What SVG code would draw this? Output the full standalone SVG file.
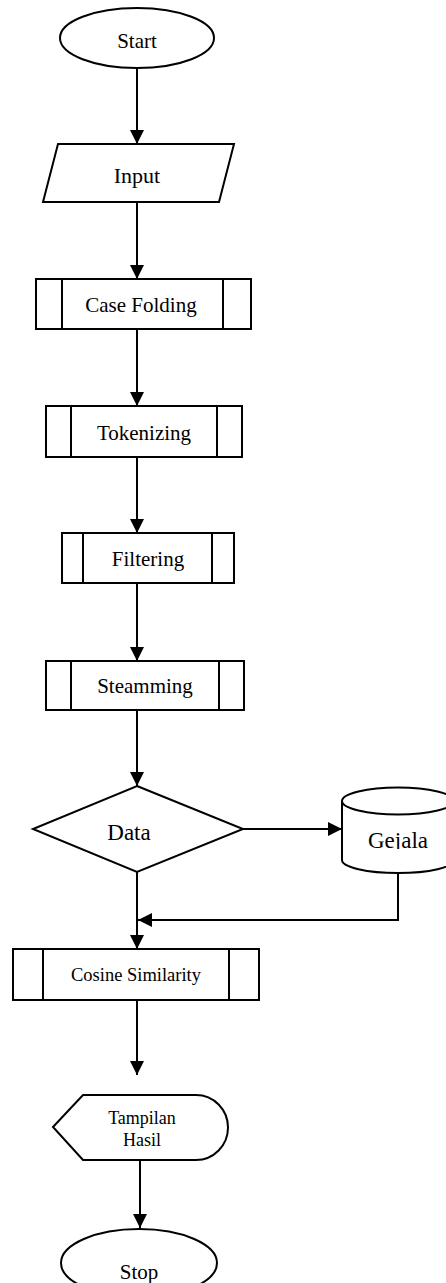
<svg xmlns="http://www.w3.org/2000/svg" width="446" height="1283" viewBox="0 0 446 1283">
<style>
.s{fill:#fff;stroke:#000;stroke-width:2}
.l{fill:none;stroke:#000;stroke-width:2}
.t{font-family:"Liberation Serif","Times New Roman",serif;fill:#000;text-anchor:middle}
</style>
<defs>
<marker id="ah" markerUnits="userSpaceOnUse" markerWidth="14" markerHeight="14" refX="14" refY="7" orient="auto">
<path d="M0,0 L14,7 L0,14 Z" fill="#000"/>
</marker>
<clipPath id="gc"><rect x="340" y="780" width="106" height="69"/></clipPath>
</defs>
<rect width="446" height="1283" fill="#fff"/>
<g id="connectors">
<line class="l" x1="137" y1="68" x2="137" y2="144" marker-end="url(#ah)"/>
<line class="l" x1="137" y1="202" x2="137" y2="279" marker-end="url(#ah)"/>
<line class="l" x1="137" y1="329" x2="137" y2="406" marker-end="url(#ah)"/>
<line class="l" x1="137" y1="457" x2="137" y2="533" marker-end="url(#ah)"/>
<line class="l" x1="137" y1="583" x2="137" y2="661" marker-end="url(#ah)"/>
<line class="l" x1="137" y1="710" x2="137" y2="786" marker-end="url(#ah)"/>
<line class="l" x1="243" y1="829" x2="342" y2="829" marker-end="url(#ah)"/>
<path class="l" d="M398,873 V920 H138" marker-end="url(#ah)"/>
<line class="l" x1="137" y1="872" x2="137" y2="949" marker-end="url(#ah)"/>
<line class="l" x1="137" y1="1000" x2="137" y2="1075" marker-end="url(#ah)"/>
<line class="l" x1="140" y1="1160" x2="140" y2="1228" marker-end="url(#ah)"/>
</g>
<g id="start">
<ellipse class="s" cx="137" cy="38" rx="77" ry="30"/>
<text class="t" x="137" y="48" font-size="21">Start</text>
</g>
<g id="input">
<polygon class="s" points="58,144 234,144 219,202 43,202"/>
<text class="t" x="137" y="183" font-size="22">Input</text>
</g>
<g id="casefolding">
<rect class="s" x="36" y="279" width="215" height="50"/>
<line class="l" x1="62" y1="279" x2="62" y2="329"/>
<line class="l" x1="223" y1="279" x2="223" y2="329"/>
<text class="t" x="141" y="312" font-size="21">Case Folding</text>
</g>
<g id="tokenizing">
<rect class="s" x="46" y="406" width="196" height="51"/>
<line class="l" x1="71" y1="406" x2="71" y2="457"/>
<line class="l" x1="217" y1="406" x2="217" y2="457"/>
<text class="t" x="144" y="440" font-size="21">Tokenizing</text>
</g>
<g id="filtering">
<rect class="s" x="62" y="533" width="172" height="50"/>
<line class="l" x1="83" y1="533" x2="83" y2="583"/>
<line class="l" x1="212" y1="533" x2="212" y2="583"/>
<text class="t" x="148" y="566" font-size="21">Filtering</text>
</g>
<g id="steamming">
<rect class="s" x="46" y="661" width="198" height="49"/>
<line class="l" x1="71" y1="661" x2="71" y2="710"/>
<line class="l" x1="219" y1="661" x2="219" y2="710"/>
<text class="t" x="145" y="693" font-size="21">Steamming</text>
</g>
<g id="data">
<polygon class="s" points="137,786 243,829 137,872 33,829"/>
<text class="t" x="129" y="840" font-size="23">Data</text>
</g>
<g id="gejala">
<path class="s" d="M342,801 A56,13.5 0 0 1 454,801 V860 A56,13 0 0 1 342,860 Z"/>
<path class="l" d="M342,801 A56,13.5 0 0 0 454,801"/>
<text class="t" x="398" y="848" font-size="23" clip-path="url(#gc)">Gejala</text>
</g>
<g id="cosine">
<rect class="s" x="13" y="949" width="246" height="51"/>
<line class="l" x1="43" y1="949" x2="43" y2="1000"/>
<line class="l" x1="229" y1="949" x2="229" y2="1000"/>
<text class="t" x="136" y="981" font-size="18.5">Cosine Similarity</text>
</g>
<g id="tampilan">
<path class="s" d="M53,1127 L83,1095 H196 A32,32.5 0 0 1 196,1160 H83 Z"/>
<text class="t" x="142" y="1124" font-size="18">Tampilan</text>
<text class="t" x="142" y="1146" font-size="18">Hasil</text>
</g>
<g id="stop">
<ellipse class="s" cx="139" cy="1263" rx="78" ry="34"/>
<text class="t" x="139" y="1279" font-size="21">Stop</text>
</g>
</svg>
